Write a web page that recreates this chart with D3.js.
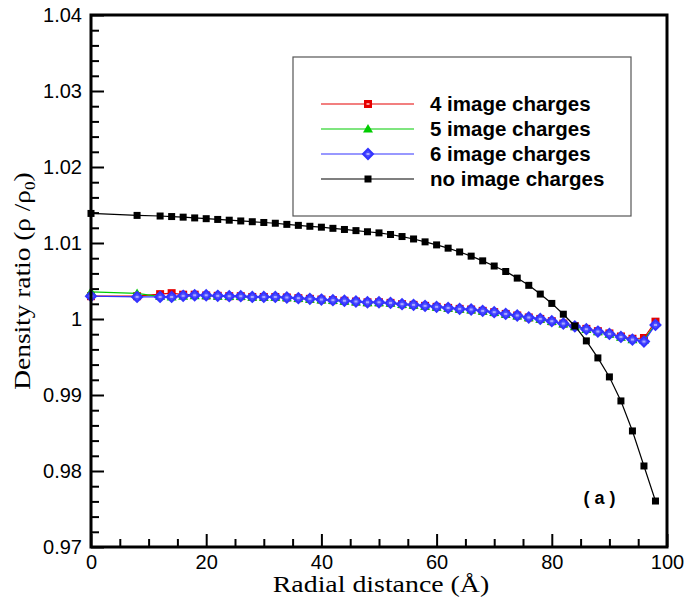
<!DOCTYPE html>
<html>
<head>
<meta charset="utf-8">
<script src="https://cdn.jsdelivr.net/npm/d3@7"></script>
<style>
  body { margin: 0; background: #fff; }
  svg { display: block; }
  .tick-label { font-family: 'Liberation Sans', Arial, sans-serif; font-size: 20px; fill: #000; }
  .legend-label { font-family: 'Liberation Sans', Arial, sans-serif; font-size: 20.5px; font-weight: bold; fill: #000; }
  .axis-title { font-family: 'Liberation Serif', 'Times New Roman', serif; font-size: 24px; fill: #000; }
</style>
</head>
<body>
<div id="chart"></div>
<script>
// radial positions (Angstrom)
const radius = [0, 8, 12, 14, 16, 18, 20, 22, 24, 26, 28, 30, 32, 34, 36, 38, 40, 42, 44, 46, 48,
  50, 52, 54, 56, 58, 60, 62, 64, 66, 68, 70, 72, 74, 76, 78, 80, 82, 84, 86, 88, 90, 92, 94, 96, 98]

const fourImage = [1.0030, 1.0030, 1.00327, 1.0034, 1.0032, 1.0032, 1.0031, 1.00305, 1.0030, 1.0030,
  1.0029, 1.0029, 1.0029, 1.00283, 1.00274, 1.00265, 1.00256, 1.00248, 1.0024, 1.0023, 1.0022,
  1.0022, 1.00212, 1.00195, 1.00186, 1.00173, 1.0016, 1.00146, 1.00133, 1.00125, 1.00107, 1.0009,
  1.00067, 1.00046, 1.0002, 1.00001, 0.99971, 0.9994, 0.99905, 0.9987, 0.9984, 0.9981, 0.9977,
  0.9974, 0.9975, 0.99965]

const fiveImage = [1.00357, 1.00336, 1.00295, 1.00288, 1.0030, 1.00306, 1.00306, 1.003, 1.00295, 1.00295,
  1.00285, 1.00285, 1.00285, 1.00278, 1.00269, 1.0026, 1.00251, 1.00243, 1.00235, 1.00225, 1.00215,
  1.00215, 1.00207, 1.0019, 1.00181, 1.00168, 1.00155, 1.00141, 1.00128, 1.0012, 1.00102, 1.00085,
  1.00062, 1.00041, 1.00015, 0.99996, 0.99966, 0.99935, 0.99898, 0.99862, 0.99831, 0.998, 0.9976,
  0.99727, 0.9972, 0.9994]

const sixImage = [1.0030, 1.00291, 1.0029, 1.0029, 1.00305, 1.00312, 1.00312, 1.00305, 1.0030, 1.0030,
  1.0029, 1.0029, 1.0029, 1.00283, 1.00274, 1.00265, 1.00256, 1.00248, 1.0024, 1.0023, 1.0022,
  1.0022, 1.00212, 1.00195, 1.00186, 1.00173, 1.0016, 1.00146, 1.00133, 1.00125, 1.00107, 1.0009,
  1.00067, 1.00046, 1.0002, 1.00001, 0.99971, 0.9994, 0.99903, 0.99866, 0.99835, 0.99804, 0.99764,
  0.99729, 0.99703, 0.99922]

const noImage = [1.01389, 1.01363, 1.01355, 1.01348, 1.0134, 1.0133, 1.0132, 1.0131, 1.013, 1.0129,
  1.0128, 1.0127, 1.0126, 1.01245, 1.01232, 1.0122, 1.01208, 1.01193, 1.01178, 1.01163, 1.01148,
  1.01133, 1.01112, 1.01085, 1.01053, 1.01015, 1.00975, 1.00932, 1.00882, 1.00827, 1.00765, 1.00697,
  1.00625, 1.00538, 1.00443, 1.00328, 1.00205, 1.00063, 0.99908, 0.99712, 0.99488, 0.99238, 0.98922,
  0.98527, 0.98066, 0.97605]

const seriesNames = ['4 image charges', '5 image charges', '6 image charges', 'no image charges']
const xTicks = [0, 20, 40, 60, 80, 100]
const yTicks = [0.97, 0.98, 0.99, 1, 1.01, 1.02, 1.03, 1.04]

let size = { width: 685, height: 597 }
let margin = { top: 15, right: 18, bottom: 50, left: 91 }
let chartWidth = size.width - margin.left - margin.right
let chartHeight = size.height - margin.top - margin.bottom

let series = [
  { name: seriesNames[0], values: fourImage, color: '#e60000', marker: 'square' },
  { name: seriesNames[1], values: fiveImage, color: '#00cc00', marker: 'triangle' },
  { name: seriesNames[2], values: sixImage, color: '#3333ff', marker: 'diamond' },
  { name: seriesNames[3], values: noImage, color: '#000000', marker: 'solid' }
]

let svg = d3.select('#chart').append('svg')
  .attr('width', size.width)
  .attr('height', size.height)

let chartArea = svg.append('g')
  .attr('transform', 'translate(' + margin.left + ',' + margin.top + ')')

let xScale = d3.scaleLinear().domain([0, 100]).range([0, chartWidth])
let yScale = d3.scaleLinear().domain([0.97, 1.04]).range([chartHeight, 0])

// markers
function drawMarker(g, type, color){
  switch(type){
    case 'square':
      g.append('rect').attr('x', -4).attr('y', -4).attr('width', 8).attr('height', 8)
        .attr('fill', color)
      g.append('rect').attr('x', -1.5).attr('y', -1).attr('width', 3).attr('height', 2)
        .attr('fill', '#ff9999')
      break
    case 'triangle':
      g.append('path').attr('d', 'M0,-5L5,3.5L-5,3.5Z').attr('fill', color)
      break
    case 'diamond':
      g.append('path').attr('d', 'M0,-5L5,0L0,5L-5,0Z')
        .attr('fill', '#4d4dff').attr('stroke', color).attr('stroke-width', 2)
      g.append('rect').attr('x', -1.5).attr('y', -1).attr('width', 3).attr('height', 2)
        .attr('fill', '#aaaaff')
      break
    default:
      g.append('rect').attr('x', -3.5).attr('y', -3.5).attr('width', 7).attr('height', 7)
        .attr('fill', color)
  }
}

// legend box
let legend = chartArea.append('g')
legend.append('rect')
  .attr('x', 293 - margin.left).attr('y', 57 - margin.top)
  .attr('width', 338).attr('height', 159)
  .attr('fill', '#fff').attr('stroke', '#555').attr('stroke-width', 1.2)

series.forEach(function(s, i){
  let ly = 104 - margin.top + i * 25
  let lx = 321 - margin.left
  legend.append('line')
    .attr('x1', lx).attr('x2', lx + 93)
    .attr('y1', ly).attr('y2', ly)
    .attr('stroke', s.color).attr('stroke-width', 1.2)
  drawMarker(legend.append('g').attr('transform', 'translate(' + (lx + 47) + ',' + ly + ')'), s.marker, s.color)
  legend.append('text')
    .attr('class', 'legend-label')
    .attr('x', 430 - margin.left).attr('y', ly)
    .attr('dy', '0.35em')
    .text(s.name)
})

// lines + points
let line = d3.line()
  .x(function(d, i){ return xScale(radius[i]) })
  .y(function(d){ return yScale(d) })

series.forEach(function(s){
  chartArea.append('path')
    .datum(s.values)
    .attr('d', line)
    .attr('fill', 'none')
    .attr('stroke', s.color)
    .attr('stroke-width', 1.2)
  chartArea.selectAll('g.pt-' + s.marker)
    .data(s.values)
    .enter()
    .append('g')
    .attr('class', 'pt-' + s.marker)
    .attr('transform', function(d, i){ return 'translate(' + xScale(radius[i]) + ',' + yScale(d) + ')' })
    .each(function(){ drawMarker(d3.select(this), s.marker, s.color) })
})

// axes (ticks inward)
let xMinor = d3.range(0, 101, 5).filter(function(v){ return v % 20 !== 0 })
let yMinor = d3.range(0, 36).map(function(i){ return 0.97 + i * 0.002 }).filter(function(v, i){ return i % 5 !== 0 })

let xAxis = chartArea.append('g')
  .attr('transform', 'translate(0,' + chartHeight + ')')
  .call(d3.axisBottom(xScale).tickValues(xTicks).tickSize(-13).tickPadding(8).tickFormat(d3.format('d')))
xAxis.append('g')
  .call(d3.axisBottom(xScale).tickValues(xMinor).tickSize(-8).tickFormat(''))
xAxis.selectAll('.domain').remove()
xAxis.selectAll('line').attr('stroke', '#000').attr('stroke-width', 2)
xAxis.selectAll('text').attr('class', 'tick-label').attr('font-size', null).attr('font-family', null)

let yAxis = chartArea.append('g')
  .call(d3.axisLeft(yScale).tickValues(yTicks).tickSize(-13).tickPadding(9)
    .tickFormat(function(d){ return d === 1 ? '1' : d3.format('.2f')(d) }))
yAxis.append('g')
  .call(d3.axisLeft(yScale).tickValues(yMinor).tickSize(-8).tickFormat(''))
yAxis.selectAll('.domain').remove()
yAxis.selectAll('line').attr('stroke', '#000').attr('stroke-width', 2)
yAxis.selectAll('text').attr('class', 'tick-label').attr('font-size', null).attr('font-family', null)

// frame
chartArea.append('rect')
  .attr('width', chartWidth).attr('height', chartHeight)
  .attr('fill', 'none').attr('stroke', '#000').attr('stroke-width', 3)

// panel tag
chartArea.append('text')
  .attr('x', xScale(88.3)).attr('y', yScale(0.9757))
  .attr('text-anchor', 'middle')
  .style('font-family', "'Liberation Sans', Arial, sans-serif")
  .style('font-weight', 'bold').style('font-size', '18px')
  .style('white-space', 'pre')
  .text('( a )')

// axis titles
svg.append('text')
  .attr('class', 'axis-title')
  .attr('text-anchor', 'middle')
  .attr('transform', 'translate(381,592) scale(1.16,1)')
  .text('Radial distance (Å)')

let yTitle = svg.append('text')
  .attr('class', 'axis-title')
  .attr('text-anchor', 'middle')
  .attr('transform', 'translate(30,281) rotate(-90) scale(1.14,1)')
yTitle.append('tspan').text('Density ratio (ρ /ρ')
yTitle.append('tspan').attr('font-size', '15px').attr('dy', 5).text('0')
yTitle.append('tspan').attr('dy', -5).text(')')
</script>
</body>
</html>
